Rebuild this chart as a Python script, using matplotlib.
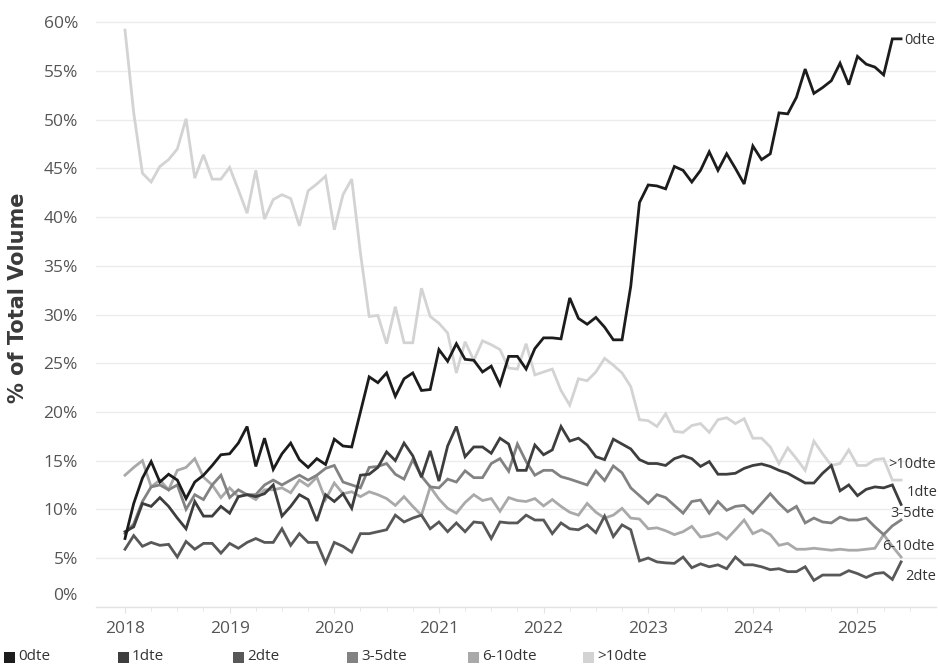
import matplotlib
matplotlib.use("Agg")
import matplotlib.pyplot as plt
import matplotlib.transforms as mtransforms
from matplotlib.patches import Rectangle
import numpy as np

# ---------------- data (monthly, Jan 2018 .. Jun 2025) ----------------
start_year = 2018
series_names = ["0dte", "1dte", "2dte", "3-5dte", "6-10dte", ">10dte"]

dte_0 = [7.0, 10.6, 13.2, 14.9, 12.8, 13.6, 13.0, 11.1, 12.8, 13.5, 14.5, 15.6,
         15.7, 16.8, 18.5, 14.4, 17.3, 14.1, 15.7, 16.8, 15.1, 14.3, 15.2, 14.6,
         17.2, 16.5, 16.4, 20.0, 23.6, 23.0, 24.0, 21.6, 23.4, 24.0, 22.2, 22.3,
         26.4, 25.2, 27.0, 25.4, 25.3, 24.1, 24.7, 22.8, 25.7, 25.7, 24.4, 26.5,
         27.6, 27.6, 27.5, 31.7, 29.6, 29.0, 29.7, 28.7, 27.4, 27.4, 32.9, 41.5,
         43.3, 43.2, 42.9, 45.2, 44.8, 43.6, 44.8, 46.7, 44.8, 46.5, 45.0, 43.4,
         47.3, 45.9, 46.5, 50.7, 50.6, 52.3, 55.2, 52.7, 53.3, 54.0, 55.8, 53.6,
         56.5, 55.7, 55.4, 54.6, 58.3, 58.3]

dte_1 = [7.7, 8.2, 10.6, 10.3, 11.2, 10.3, 9.1, 8.0, 10.8, 9.3, 9.3, 10.3,
         9.6, 11.3, 11.5, 11.3, 11.6, 12.5, 9.3, 10.3, 11.5, 11.0, 8.8, 11.5,
         10.8, 11.6, 10.1, 13.5, 13.6, 14.3, 15.9, 15.0, 16.8, 15.5, 13.3, 16.0,
         12.9, 16.5, 18.5, 15.4, 16.4, 16.4, 15.75, 17.3, 16.7, 14.0, 14.0, 16.6,
         15.6, 16.1, 18.5, 17.0, 17.3, 16.6, 15.4, 15.1, 17.2, 16.7, 16.2, 15.1,
         14.7, 14.7, 14.5, 15.2, 15.5, 15.2, 14.4, 14.9, 13.6, 13.6, 13.7, 14.2,
         14.5, 14.65, 14.4, 14.0, 13.7, 13.2, 12.7, 12.7, 13.7, 14.5, 11.9, 12.5,
         11.4, 12.05, 12.3, 12.2, 12.5, 10.5]

dte_2 = [5.9, 7.3, 6.2, 6.6, 6.3, 6.4, 5.1, 6.7, 5.9, 6.5, 6.5, 5.5,
         6.5, 6.0, 6.6, 7.0, 6.6, 6.6, 8.0, 6.3, 7.5, 6.6, 6.6, 4.5,
         6.6, 6.2, 5.6, 7.5, 7.5, 7.7, 7.9, 9.4, 8.7, 9.1, 9.4, 8.0,
         8.7, 7.7, 8.6, 7.7, 8.7, 8.6, 7.0, 8.7, 8.6, 8.6, 9.4, 8.9,
         8.9, 7.5, 8.6, 8.0, 7.9, 8.4, 7.6, 9.3, 7.2, 8.4, 7.9, 4.7,
         5.0, 4.6, 4.5, 4.45, 5.1, 4.0, 4.4, 4.1, 4.3, 3.9, 5.1, 4.3,
         4.3, 4.1, 3.8, 3.9, 3.6, 3.6, 4.1, 2.7, 3.25, 3.25, 3.25, 3.7,
         3.4, 3.0, 3.4, 3.5, 2.8, 4.6]

dte_3_5 = [7.5, 8.5, 10.8, 12.3, 12.5, 12.0, 12.5, 10.0, 11.5, 11.0, 12.5, 13.5,
           11.2, 12.0, 11.5, 11.5, 12.5, 13.0, 12.5, 13.0, 13.5, 13.0, 13.5, 14.2,
           14.5, 12.8, 12.5, 12.2, 14.3, 14.4, 14.7, 13.6, 13.1, 15.1, 13.4, 12.3,
           12.2, 13.1, 12.8, 13.95, 13.25, 13.25, 14.7, 15.2, 13.9, 16.7, 14.9, 13.5,
           14.0, 14.0, 13.35, 13.1, 12.8, 12.5, 13.95, 12.95, 14.45, 13.75, 12.2, 11.4,
           10.6, 11.5, 11.2, 10.4, 9.6, 10.8, 10.95, 9.6, 10.8, 9.9, 10.3, 10.4,
           9.6, 10.6, 11.6, 10.6, 9.75, 10.3, 8.6, 9.1, 8.7, 8.6, 9.2, 8.9,
           8.9, 9.1, 8.2, 7.4, 8.3, 8.9]

dte_6_10 = [13.5, 14.3, 15.0, 12.3, 13.0, 12.0, 14.0, 14.3, 15.2, 13.3, 12.5, 11.2,
            12.2, 11.3, 11.5, 11.0, 12.0, 12.0, 12.2, 11.7, 13.0, 12.4, 13.3, 11.0,
            12.7, 11.6, 11.8, 11.3, 11.8, 11.5, 11.1, 10.4, 11.3, 10.3, 9.4, 12.3,
            11.05, 10.1, 9.6, 10.7, 11.5, 10.9, 11.1, 9.8, 11.2, 10.9, 10.8, 11.1,
            10.35, 11.0, 10.3, 9.7, 9.4, 10.6, 9.7, 9.1, 9.4, 10.1, 9.1, 9.0,
            8.0, 8.1, 7.8, 7.4, 7.7, 8.25, 7.15, 7.3, 7.6, 6.95, 7.9, 8.9,
            7.5, 7.9, 7.4, 6.3, 6.5, 5.9, 5.9, 6.0, 5.9, 5.8, 5.9, 5.8,
            5.8, 5.9, 6.0, 7.4, 6.2, 5.1]

dte_gt10 = [59.2, 50.7, 44.5, 43.6, 45.2, 45.9, 47.0, 50.1, 44.0, 46.4, 43.9, 43.9,
            45.1, 42.8, 40.4, 44.8, 39.8, 41.8, 42.3, 41.9, 39.1, 42.7, 43.4, 44.2,
            38.7, 42.3, 43.9, 36.3, 29.8, 29.9, 27.0, 30.8, 27.1, 27.1, 32.7, 29.8,
            29.1, 28.1, 24.0, 27.2, 25.3, 27.3, 26.9, 26.4, 24.5, 24.4, 27.0, 23.8,
            24.1, 24.4, 22.2, 20.7, 23.4, 23.2, 24.1, 25.5, 24.8, 24.0, 22.6, 19.2,
            19.1, 18.5, 19.8, 18.0, 17.9, 18.6, 18.8, 17.9, 19.2, 19.4, 18.8, 19.3,
            17.3, 17.3, 16.4, 14.7, 16.3, 15.2, 14.0, 17.0, 15.7, 14.5, 14.7, 16.1,
            14.5, 14.5, 15.1, 15.2, 13.0, 13.0]

series_values = [dte_0, dte_1, dte_2, dte_3_5, dte_6_10, dte_gt10]
y_ticks = [0, 5, 10, 15, 20, 25, 30, 35, 40, 45, 50, 55, 60]
x_years = [2018, 2019, 2020, 2021, 2022, 2023, 2024, 2025]

# ---------------- styling ----------------
colors = ["#1c1c1c", "#3e3e3e", "#585858", "#828282", "#a9a9a9", "#d3d3d3"]
# label offsets (points) relative to the last point of each line
label_offsets = [(2.2, -1.3), (4.1, 8.4), (2.9, -10.7), (-7.4, 5.0), (-13.9, 7.4), (-9.4, 11.5)]

FONT = "Open Sans"
plt.rcParams["font.family"] = [FONT, "DejaVu Sans"]

W, H = 938, 670
fig = plt.figure(figsize=(W / 100, H / 100), dpi=100)
ax_left, ax_right = 96, 936
ax_top, ax_bottom = 8, 606.7
ax = fig.add_axes([ax_left / W, (H - ax_bottom) / H,
                   (ax_right - ax_left) / W, (ax_bottom - ax_top) / H])

n = len(dte_0)
x = start_year + np.arange(n) / 12.0

for k in reversed(range(len(series_names))):
    ax.plot(x, series_values[k], color=colors[k], lw=2.0, solid_joinstyle="miter",
            zorder=3 + (len(series_names) - k), clip_on=False)
    ax.annotate(series_names[k], xy=(x[-1], series_values[k][-1]),
                xytext=label_offsets[k], textcoords="offset points",
                ha="left", va="center", fontsize=10.5, color="#333333",
                annotation_clip=False, zorder=20)

px_per_year = 104.64
x0_px = 125
ax.set_xlim(start_year - (x0_px - ax_left) / px_per_year,
            start_year + (ax_right - x0_px) / px_per_year)
ax.set_ylim(0, (ax_bottom - ax_top) / 9.74)

ax.set_yticks(y_ticks)
ax.set_yticklabels([f"{v}%" for v in y_ticks])
ax.set_xticks(x_years)
ax.set_xticklabels([str(v) for v in x_years])
ax.set_xticks([start_year + q / 4 for q in range(0, 31)], minor=True)

ax.grid(axis="y", color="#ececec", lw=1.0)
ax.set_axisbelow(True)
for s in ["top", "right", "left"]:
    ax.spines[s].set_visible(False)
ax.spines["bottom"].set_color("#e3e3e3")
ax.spines["bottom"].set_linewidth(1.0)

ax.tick_params(axis="y", length=0, pad=13, labelsize=12.5, labelcolor="#555555")
ax.tick_params(axis="x", which="major", length=4, color="#e3e3e3", pad=6,
               labelsize=12.5, labelcolor="#555555")
ax.tick_params(axis="x", which="minor", length=3, color="#e3e3e3")

# lift the 0% label like the reference
lbl0 = ax.get_yticklabels()[0]
lbl0.set_transform(lbl0.get_transform() + mtransforms.ScaledTranslation(0, 13 / 100, fig.dpi_scale_trans))

fig.text(18 / W, (H - 298) / H, "% of Total Volume", rotation=90, ha="center", va="center",
         fontsize=15, fontweight="bold", color="#3a3a3a", family="DejaVu Sans")

# legend (manual row at the bottom)
leg_sq_x = [4, 118, 233, 347, 468, 583]
leg_y = 657
sq = 11
for k, name in enumerate(series_names):
    fig.patches.append(Rectangle((leg_sq_x[k] / W, (H - leg_y - sq / 2) / H), sq / W, sq / H,
                                 transform=fig.transFigure, facecolor=colors[k],
                                 edgecolor="none"))
    fig.text((leg_sq_x[k] + sq + 3) / W, (H - leg_y) / H, name, ha="left", va="center",
             fontsize=11, color="#333333")

fig.savefig("out.png", dpi=100)
